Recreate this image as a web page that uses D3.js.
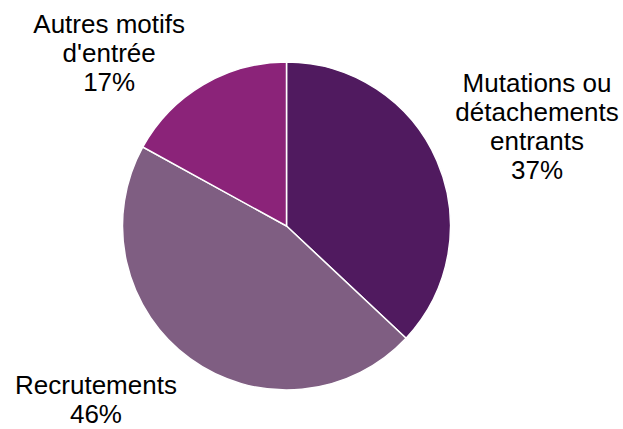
<!DOCTYPE html>
<html>
<head>
<meta charset="utf-8">
<script src="https://cdn.jsdelivr.net/npm/d3@7"></script>
<style>
  body { margin: 0; background: #fff; }
  text { font-family: "Liberation Sans", Arial, sans-serif; font-size: 26px; fill: #000; }
</style>
</head>
<body>
<script>
// data
const categories = ["Mutations ou détachements entrants", "Recrutements", "Autres motifs d'entrée"];
const values = [37, 46, 17];
const labelLines = [
  ["Mutations ou", "détachements", "entrants"],
  ["Recrutements"],
  ["Autres motifs", "d'entrée"]
];
const colors = ["#501a5f", "#7f5e82", "#8b2379"];

const width = 623, height = 429;
const cx = 286.5, cy = 226, radius = 164;

const svg = d3.select("body").append("svg")
  .attr("width", width)
  .attr("height", height);

const g = svg.append("g").attr("transform", `translate(${cx},${cy})`);

const pie = d3.pie().sort(null).value(d => d)(values);
const arc = d3.arc().innerRadius(0).outerRadius(radius);

g.selectAll("path").data(pie).join("path")
  .attr("d", arc)
  .attr("fill", (d, i) => colors[i])
  .attr("stroke", "#fff")
  .attr("stroke-width", 1.5);

// label placement (Excel style best fit, outside the pie) - anchor = first baseline
const labelPos = [
  {r: 284, a: 61.9},
  {r: 254, a: 228.6},
  {r: 262, a: 317.4}
];
const lineH = 29;

pie.forEach((d, i) => {
  const p = labelPos[i];
  const rad = p.a * Math.PI / 180;
  const x = p.r * Math.sin(rad), y = -p.r * Math.cos(rad);
  const lines = labelLines[i].concat([values[i] + "%"]);
  const t = g.append("text")
    .attr("text-anchor", "middle")
    .attr("x", x)
    .attr("y", y);
  lines.forEach((l, j) => {
    t.append("tspan").attr("x", x).attr("dy", j === 0 ? 0 : lineH).text(l);
  });
});
</script>
</body>
</html>
